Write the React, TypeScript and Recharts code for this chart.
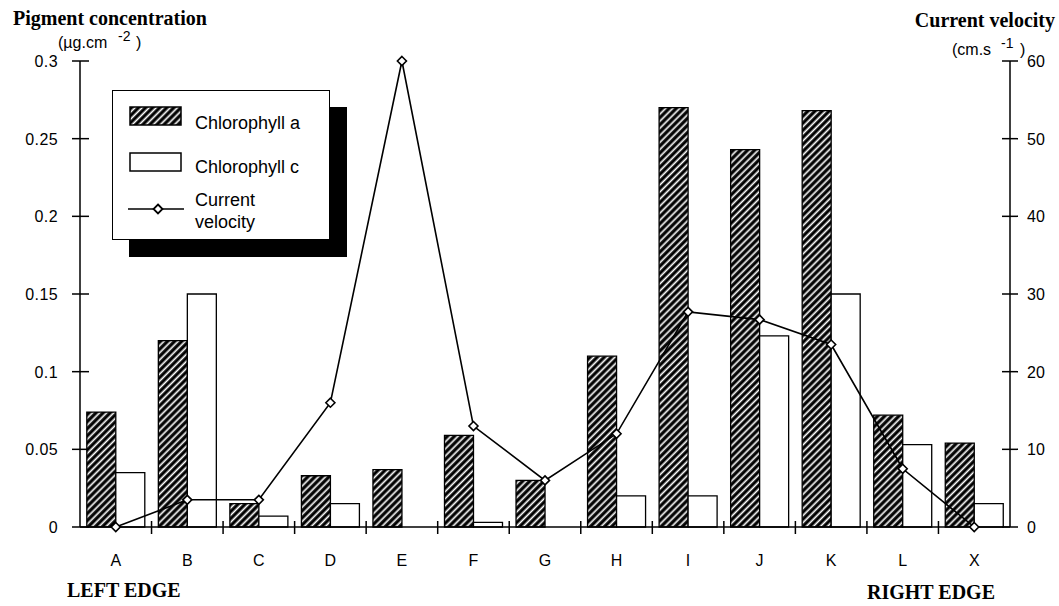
import React from 'react';
import { ComposedChart, Bar, Line, XAxis, YAxis } from 'recharts';

document.body.style.margin = '0';

const sites = ['A', 'B', 'C', 'D', 'E', 'F', 'G', 'H', 'I', 'J', 'K', 'L', 'X'];
const chlorophyllA = [0.074, 0.12, 0.015, 0.033, 0.037, 0.059, 0.03, 0.11, 0.27, 0.243, 0.268, 0.072, 0.054];
const chlorophyllC = [0.035, 0.15, 0.007, 0.015, 0, 0.003, 0, 0.02, 0.02, 0.123, 0.15, 0.053, 0.015];
const velocity = [0, 3.5, 3.5, 16, 60, 13, 6, 12, 27.7, 26.7, 23.5, 7.5, 0];
const pigmentTicks = [0, 0.05, 0.1, 0.15, 0.2, 0.25, 0.3];
const velocityTicks = [0, 10, 20, 30, 40, 50, 60];

const W = 1059;
const H = 606;
const LEFT = 80;
const RIGHT = 1010;
const BOTTOM = 527;
const BAND = (RIGHT - LEFT) / sites.length;

const SANS = '"Liberation Sans", Arial, sans-serif';
const SERIF = '"Liberation Serif", "Times New Roman", serif';

const data = sites.map((s, i) => ({
  site: s,
  chlA: chlorophyllA[i],
  chlC: chlorophyllC[i],
  vel: velocity[i],
}));

// ticks cross the axis line, like the original
const LeftTick = (p: any) => (
  <g>
    <line x1={LEFT - 8} x2={LEFT + 9} y1={p.y} y2={p.y} stroke="#000" strokeWidth={1.5} />
    <text x={58} y={p.y} dy={6} textAnchor="end" fontSize={16} letterSpacing={0.4} fontFamily={SANS} fill="#000">
      {String(p.payload.value)}
    </text>
  </g>
);

const RightTick = (p: any) => (
  <g>
    <line x1={RIGHT - 8} x2={RIGHT + 8} y1={p.y} y2={p.y} stroke="#000" strokeWidth={1.5} />
    <text x={1027} y={p.y} dy={6} textAnchor="start" fontSize={16} fontFamily={SANS} fill="#000">
      {String(p.payload.value)}
    </text>
  </g>
);

const SiteTick = (p: any) => (
  <g>
    {p.index > 0 && (
      <line x1={p.x - BAND / 2} x2={p.x - BAND / 2} y1={BOTTOM - 6} y2={BOTTOM + 7} stroke="#000" strokeWidth={1.5} />
    )}
    <text x={p.x} y={566} textAnchor="middle" fontSize={16} fontFamily={SANS} fill="#000">
      {p.payload.value}
    </text>
  </g>
);

const Diamond = (p: any) => {
  const { cx, cy } = p;
  if (cx == null || cy == null) return null;
  return (
    <path
      key={p.index}
      d={`M${cx},${cy - 4.5}L${cx + 4.5},${cy}L${cx},${cy + 4.5}L${cx - 4.5},${cy}Z`}
      fill="#fff"
      stroke="#000"
      strokeWidth={1.6}
    />
  );
};

function LegendBox() {
  return (
    <div
      style={{
        position: 'absolute',
        left: 112,
        top: 90,
        width: 216,
        height: 148,
        border: '1.5px solid #000',
        background: '#fff',
        boxShadow: '17px 17px 0 0 #000',
      }}
    >
      <svg width={216} height={148}>
        <rect x={17} y={16} width={51} height={18} fill="url(#hatch)" stroke="#000" strokeWidth={1.5} />
        <text x={82} y={38} fontSize={18} fontFamily={SANS}>Chlorophyll a</text>
        <rect x={17} y={62} width={51} height={18} fill="#fff" stroke="#000" strokeWidth={1.5} />
        <text x={82} y={82} fontSize={18} fontFamily={SANS}>Chlorophyll c</text>
        <line x1={15} x2={71} y1={118} y2={118} stroke="#000" strokeWidth={1.5} />
        <path d="M45,113.5L49.5,118L45,122.5L40.5,118Z" fill="#fff" stroke="#000" strokeWidth={1.8} />
        <text x={82} y={115} fontSize={18} fontFamily={SANS}>Current</text>
        <text x={82} y={137} fontSize={18} fontFamily={SANS}>velocity</text>
      </svg>
    </div>
  );
}

export default function App() {
  return (
    <div style={{ position: 'relative', width: W, height: H, background: '#fff' }}>
      <svg width={0} height={0} style={{ position: 'absolute' }}>
        <defs>
          <pattern id="hatch" patternUnits="userSpaceOnUse" width={5} height={5} patternTransform="rotate(45)">
            <rect width={5} height={5} fill="#000" />
            <rect x={1.5} width={1.7} height={5} fill="#fff" />
          </pattern>
        </defs>
      </svg>

      <ComposedChart
        width={W}
        height={H}
        data={data}
        margin={{ top: 61, right: 0, bottom: 39, left: 0 }}
        barCategoryGap="9.5%"
        barGap={0}
      >
        <XAxis
          dataKey="site"
          height={40}
          interval={0}
          axisLine={{ stroke: '#000', strokeWidth: 1.5 }}
          tickLine={false}
          tick={<SiteTick />}
        />
        <YAxis
          yAxisId="left"
          width={80}
          domain={[0, 0.3]}
          ticks={pigmentTicks}
          interval={0}
          axisLine={{ stroke: '#000', strokeWidth: 1.5 }}
          tickLine={false}
          tick={<LeftTick />}
        />
        <YAxis
          yAxisId="right"
          orientation="right"
          width={49}
          domain={[0, 60]}
          ticks={velocityTicks}
          interval={0}
          axisLine={{ stroke: '#000', strokeWidth: 1.5 }}
          tickLine={false}
          tick={<RightTick />}
        />
        <Bar yAxisId="left" dataKey="chlA" fill="url(#hatch)" stroke="#000" strokeWidth={1.3} isAnimationActive={false} />
        <Bar yAxisId="left" dataKey="chlC" fill="#fff" stroke="#000" strokeWidth={1.3} isAnimationActive={false} />
        <Line
          yAxisId="right"
          dataKey="vel"
          type="linear"
          stroke="#000"
          strokeWidth={1.6}
          dot={<Diamond />}
          activeDot={false}
          isAnimationActive={false}
        />
      </ComposedChart>

      <svg width={W} height={H} style={{ position: 'absolute', left: 0, top: 0, pointerEvents: 'none' }}>
        <text x={13} y={25} fontSize={20} fontWeight="bold" fontFamily={SERIF}>Pigment concentration</text>
        <text x={58} y={48} fontSize={16} fontFamily={SANS}>(µg.cm</text>
        <text x={118} y={41} fontSize={14} fontFamily={SANS}>-2</text>
        <text x={136} y={48} fontSize={16} fontFamily={SANS}>)</text>
        <text x={1055} y={27} fontSize={20} fontWeight="bold" fontFamily={SERIF} textAnchor="end">Current velocity</text>
        <text x={952} y={55} fontSize={16} fontFamily={SANS}>(cm.s</text>
        <text x={1001} y={48} fontSize={14} fontFamily={SANS}>-1</text>
        <text x={1020} y={55} fontSize={16} fontFamily={SANS}>)</text>
        <text x={67} y={597} fontSize={20} fontWeight="bold" fontFamily={SERIF}>LEFT EDGE</text>
        <text x={867} y={599} fontSize={20} fontWeight="bold" fontFamily={SERIF}>RIGHT EDGE</text>
      </svg>

      <LegendBox />
    </div>
  );
}
